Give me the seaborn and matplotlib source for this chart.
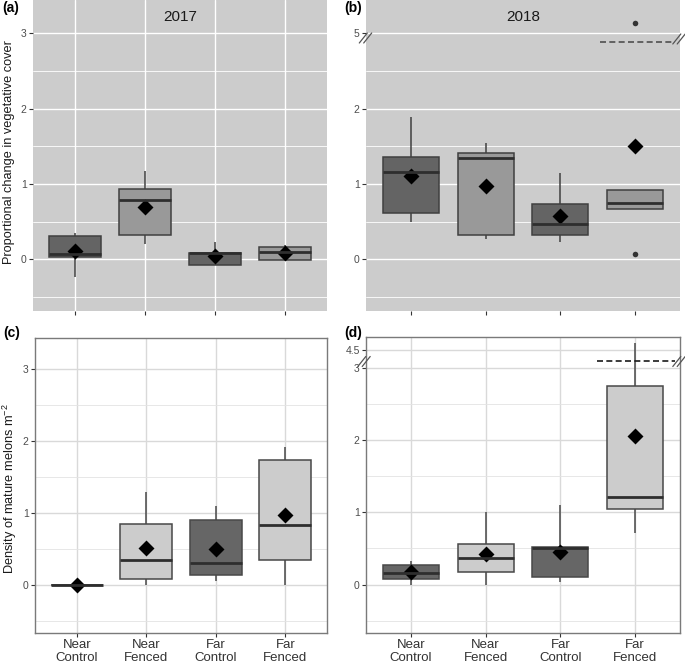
import numpy as np
import pandas as pd
import matplotlib
matplotlib.use("Agg")
import matplotlib.pyplot as plt
import seaborn as sns

# ---------------- data ----------------
categories = ["Near\nControl", "Near\nFenced", "Far\nControl", "Far\nFenced"]
treatment = ["Control", "Fenced", "Control", "Fenced"]

# (a) 2017 proportional change in vegetative cover
veg17_low = [-0.23, 0.21, -0.075, -0.01]
veg17_q1 = [0.027, 0.32, -0.075, -0.01]
veg17_med = [0.07, 0.79, 0.08, 0.10]
veg17_q3 = [0.31, 0.94, 0.09, 0.17]
veg17_high = [0.35, 1.18, 0.23, 0.19]
veg17_mean = [0.115, 0.69, 0.045, 0.08]

# (b) 2018 proportional change in vegetative cover
veg18_low = [0.50, 0.27, 0.235, 0.67]
veg18_q1 = [0.62, 0.32, 0.32, 0.67]
veg18_med = [1.16, 1.345, 0.47, 0.75]
veg18_q3 = [1.36, 1.41, 0.74, 0.925]
veg18_high = [1.885, 1.55, 1.15, 0.925]
veg18_mean = [1.106, 0.98, 0.575, 1.51]
veg18_out_group = ["Far\nFenced", "Far\nFenced"]
veg18_out_value = [0.075, 5.14]

# (c) 2017 density of mature melons
mel17_low = [0.0, 0.0, 0.055, 0.0]
mel17_q1 = [0.0, 0.074, 0.134, 0.35]
mel17_med = [0.0, 0.343, 0.296, 0.824]
mel17_q3 = [0.0, 0.85, 0.907, 1.74]
mel17_high = [0.0, 1.29, 1.09, 1.92]
mel17_mean = [0.0, 0.51, 0.49, 0.97]

# (d) 2018 density of mature melons
mel18_low = [0.0, 0.0, 0.03, 0.72]
mel18_q1 = [0.07, 0.18, 0.11, 1.05]
mel18_med = [0.16, 0.37, 0.50, 1.22]
mel18_q3 = [0.264, 0.556, 0.514, 2.75]
mel18_high = [0.33, 1.01, 1.11, 4.6]
mel18_mean = [0.167, 0.426, 0.45, 2.06]

yticks_a = [0, 1, 2, 3]
yticks_b = [0, 1, 2, 5]
yticks_c = [0, 1, 2, 3]
yticks_d = [0, 1, 2, 3, 4.5]
minor_ticks = [-0.5, 0.5, 1.5, 2.5]

# ---------------- style ----------------
sns.set_theme(style="white")
plt.rcParams["font.family"] = ["Liberation Sans", "DejaVu Sans"]
plt.rcParams["mathtext.fontset"] = "custom"
plt.rcParams["mathtext.rm"] = "Liberation Sans"
plt.rcParams["mathtext.it"] = "Liberation Sans:italic"

W, H = 685, 669
fig = plt.figure(figsize=(W / 100, H / 100), dpi=100)


def add_ax(left, top, right, bottom):
    return fig.add_axes([left / W, 1 - bottom / H, (right - left) / W, (bottom - top) / H])


def brk(values, cut, real_anchor, shown_anchor):
    return [v if v <= cut else shown_anchor + (v - real_anchor) for v in values]


def five_frame(low, q1, med, q3, high):
    rows = []
    for i, c in enumerate(categories):
        for v in (low[i], q1[i], med[i], q3[i], high[i]):
            rows.append((c, v))
    return pd.DataFrame(rows, columns=["group", "value"])


def draw_panel(ax, df, means, pal, edge, gray_bg):
    sns.boxplot(data=df, x="group", y="value", hue="group", order=categories,
                hue_order=categories, palette=pal, whis=(0, 100), width=0.75,
                saturation=1, linecolor=edge, linewidth=1.1, showcaps=False,
                fliersize=0, medianprops={"color": "#2e2e2e", "linewidth": 2.0},
                legend=False, ax=ax)
    sns.pointplot(x=categories, y=means, order=categories, color="black",
                  marker="D", linestyle="none", markersize=5.8, errorbar=None, ax=ax)
    ax.set_xlabel("")
    ax.set_ylabel("")
    ax.set_xlim(-0.6, 3.6)
    ax.set_axisbelow(True)
    if gray_bg:
        ax.set_facecolor("#CCCCCC")
        gc_major, gc_minor = "white", "white"
        for s in ax.spines.values():
            s.set_visible(False)
    else:
        ax.set_facecolor("white")
        gc_major, gc_minor = "#D9D9D9", "#E3E3E3"
        for s in ax.spines.values():
            s.set_visible(True)
            s.set_color("#7A7A7A")
            s.set_linewidth(1.0)
    ax.set_yticks(minor_ticks, minor=True)
    ax.grid(True, which="major", color=gc_major, linewidth=1.0)
    ax.grid(True, which="minor", axis="y", color=gc_minor, linewidth=0.6)
    ax.tick_params(which="major", bottom=True, left=True, length=3, width=0.8,
                   color="#333333", labelsize=7.5, labelcolor="#4D4D4D", pad=1.5)
    ax.tick_params(which="minor", length=0)


pal_gray = {c: ("#646464" if t == "Control" else "#999999") for c, t in zip(categories, treatment)}
pal_white = {c: ("#666666" if t == "Control" else "#CCCCCC") for c, t in zip(categories, treatment)}

ax_a = add_ax(33, 0, 327, 310.7)
ax_b = add_ax(366, 0, 680, 310.7)
ax_c = add_ax(35, 338.3, 327, 633.3)
ax_d = add_ax(366, 337.3, 680, 633.3)

# (a)
draw_panel(ax_a, five_frame(veg17_low, veg17_q1, veg17_med, veg17_q3, veg17_high),
           veg17_mean, pal_gray, "#404040", True)
ax_a.set_ylim(-0.68, 3.443)
ax_a.set_yticks(yticks_a)
ax_a.set_yticklabels([str(t) for t in yticks_a])
ax_a.tick_params(labelbottom=False)
ax_a.text(0.5, 0.945, "2017", transform=ax_a.transAxes, ha="center", va="center",
          fontsize=11, color="#1A1A1A")

# (b) with axis break above 2.9
bcut, breal, bshow = 3.0, 5.0, 3.0
draw_panel(ax_b, five_frame(brk(veg18_low, bcut, breal, bshow), brk(veg18_q1, bcut, breal, bshow),
                            brk(veg18_med, bcut, breal, bshow), brk(veg18_q3, bcut, breal, bshow),
                            brk(veg18_high, bcut, breal, bshow)),
           brk(veg18_mean, bcut, breal, bshow), pal_gray, "#404040", True)
sns.stripplot(x=veg18_out_group, y=brk(veg18_out_value, bcut, breal, bshow), order=categories,
              jitter=False, color="#333333", size=4.0, ax=ax_b)
ax_b.set_xlim(-0.6, 3.6)
ax_b.set_ylim(-0.68, 3.443)
ax_b.set_yticks(brk(yticks_b, bcut, breal, bshow))
ax_b.set_yticklabels([str(t) for t in yticks_b])
ax_b.tick_params(labelbottom=False)
ax_b.text(0.5, 0.945, "2018", transform=ax_b.transAxes, ha="center", va="center",
          fontsize=11, color="#1A1A1A")
ax_b.plot([2.53, 3.53], [2.89, 2.89], color="#505050", lw=1.2,
          linestyle=(0, (3.6, 2.0)), zorder=6)

# (c)
draw_panel(ax_c, five_frame(mel17_low, mel17_q1, mel17_med, mel17_q3, mel17_high),
           mel17_mean, pal_white, "#484848", False)
ax_c.set_ylim(-0.677, 3.43)
ax_c.set_yticks(yticks_c)
ax_c.set_yticklabels([str(t) for t in yticks_c])

# (d) with axis break above 3.1
dcut, dreal, dshow = 3.1, 4.5, 3.255
draw_panel(ax_d, five_frame(brk(mel18_low, dcut, dreal, dshow), brk(mel18_q1, dcut, dreal, dshow),
                            brk(mel18_med, dcut, dreal, dshow), brk(mel18_q3, dcut, dreal, dshow),
                            brk(mel18_high, dcut, dreal, dshow)),
           brk(mel18_mean, dcut, dreal, dshow), pal_white, "#484848", False)
ax_d.set_ylim(-0.677, 3.43)
ax_d.set_yticks(brk(yticks_d, dcut, dreal, dshow))
ax_d.set_yticklabels([("%g" % t) for t in yticks_d])
ax_d.plot([2.49, 3.53], [3.106, 3.106], color="#1A1A1A", lw=1.2,
          linestyle=(0, (3.6, 2.0)), zorder=6)

for ax in (ax_c, ax_d):
    ax.set_xticks(range(len(categories)))
    ax.set_xticklabels(categories, fontsize=9.5, color="#333333", linespacing=1.12)
    ax.tick_params(axis="x", labelsize=9.5, labelcolor="#333333", pad=1)


# break marks "//" drawn in figure pixel space
def slash_pair(cx, cy, color):
    for off in (-2.2, 2.2):
        xs = [cx - 4 + off, cx + 4 + off]
        ys = [cy + 5, cy - 5]
        fig.add_artist(plt.Line2D([x / W for x in xs], [1 - y / H for y in ys],
                                  transform=fig.transFigure, color=color, lw=0.9))


slash_pair(365.5, 38, "#555555")
slash_pair(679, 39, "#555555")
slash_pair(364, 361.5, "#555555")
slash_pair(679, 361.5, "#555555")

# axis titles and panel labels
fig.text(9 / W, 1 - 152 / H, "Proportional change in vegetative cover", rotation=90,
         ha="center", va="center", fontsize=9.2, color="#1A1A1A")
fig.text(10 / W, 1 - 489 / H, r"Density of mature melons m$^{-2}$", rotation=90,
         ha="center", va="center", fontsize=9.2, color="#1A1A1A")
for lab, px, py in (("(a)", 11, 8), ("(b)", 353, 8), ("(c)", 12, 333), ("(d)", 353, 333)):
    fig.text(px / W, 1 - py / H, lab, ha="center", va="center", fontsize=10,
             fontweight="bold", color="black")

fig.savefig("out.png", dpi=100, facecolor="white")
